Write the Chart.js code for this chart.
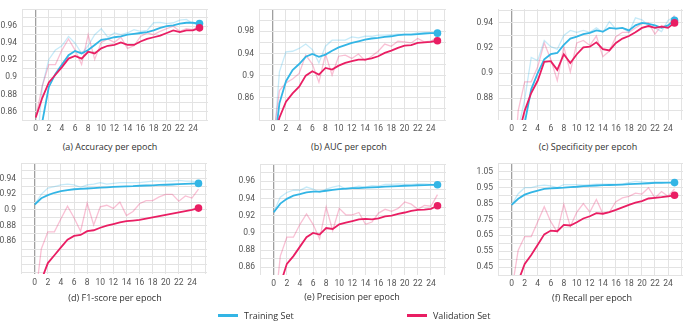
<!DOCTYPE html>
<html><head><meta charset="utf-8">
<script src="https://cdn.jsdelivr.net/npm/chart.js@4.4.1/dist/chart.umd.min.js"></script>
<style>
html,body{margin:0;padding:0;background:#fff;width:685px;height:322px;overflow:hidden;}
#wrap{position:relative;width:685px;height:322px;overflow:hidden;}
canvas{position:absolute;}
.cap{position:absolute;font-family:"Open Sans",sans-serif;font-size:9px;color:#333;white-space:nowrap;transform:translate(-50%,-50%);line-height:1;}
.leg{position:absolute;font-family:"Open Sans",sans-serif;font-size:9px;color:#333;white-space:nowrap;transform:translateY(-50%);line-height:1;}
.sw{position:absolute;height:2.5px;width:20px;}
</style></head>
<body><div id="wrap"></div>
<script>
// ---- data ----
const epochs = [0,1,2,3,4,5,6,7,8,9,10,11,12,13,14,15,16,17,18,19,20,21,22,23,24,25];
const xTickLabels = [0,2,4,6,8,10,12,14,16,18,20,22,24];

// (a) Accuracy
const accTrain    = [0.80,0.848,0.889,0.904,0.915,0.926,0.931,0.928,0.932,0.938,0.944,0.945,0.947,0.948,0.950,0.951,0.952,0.953,0.955,0.958,0.960,0.961,0.963,0.964,0.964,0.963];
const accTrainRaw = [0.80,0.890,0.921,0.932,0.937,0.948,0.940,0.928,0.937,0.950,0.957,0.947,0.952,0.950,0.952,0.956,0.954,0.955,0.964,0.9645,0.963,0.964,0.967,0.968,0.963,0.962];
const accVal      = [0.853,0.876,0.894,0.903,0.912,0.922,0.925,0.922,0.930,0.928,0.934,0.937,0.938,0.941,0.938,0.938,0.942,0.945,0.947,0.949,0.952,0.955,0.953,0.955,0.955,0.958];
const accValRaw   = [0.853,0.890,0.915,0.915,0.932,0.945,0.932,0.915,0.950,0.921,0.941,0.945,0.941,0.947,0.934,0.937,0.948,0.952,0.950,0.954,0.957,0.960,0.954,0.957,0.956,0.960];
const accYTicks   = [0.86,0.88,0.90,0.92,0.94,0.96];

// (b) AUC
const aucTrain    = [0.75,0.850,0.890,0.910,0.921,0.934,0.939,0.934,0.938,0.945,0.951,0.955,0.959,0.962,0.965,0.967,0.968,0.970,0.971,0.973,0.974,0.974,0.975,0.976,0.9765,0.9766];
const aucTrainRaw = [0.75,0.907,0.943,0.944,0.949,0.957,0.947,0.923,0.953,0.964,0.964,0.964,0.970,0.968,0.971,0.971,0.973,0.973,0.974,0.975,0.975,0.975,0.977,0.9766,0.977,0.9766];
const aucVal      = [0.78,0.824,0.853,0.868,0.880,0.900,0.908,0.902,0.914,0.911,0.918,0.923,0.926,0.929,0.929,0.931,0.935,0.941,0.945,0.950,0.954,0.955,0.959,0.960,0.961,0.963];
const aucValRaw   = [0.78,0.873,0.887,0.894,0.904,0.937,0.921,0.888,0.939,0.901,0.935,0.937,0.931,0.939,0.927,0.935,0.944,0.957,0.953,0.962,0.961,0.959,0.967,0.961,0.962,0.970];
const aucYTicks   = [0.86,0.90,0.94,0.98];

// (c) Specificity
const specTrain    = [0.80,0.835,0.860,0.887,0.900,0.911,0.915,0.916,0.9225,0.9275,0.929,0.931,0.932,0.934,0.933,0.936,0.9355,0.936,0.934,0.938,0.940,0.9393,0.938,0.936,0.938,0.942];
const specTrainRaw = [0.80,0.855,0.879,0.9125,0.910,0.926,0.921,0.919,0.930,0.934,0.9325,0.934,0.9325,0.936,0.9325,0.941,0.935,0.936,0.9325,0.944,0.9425,0.938,0.936,0.933,0.942,0.945];
const specVal      = [0.80,0.850,0.870,0.884,0.894,0.909,0.9095,0.9025,0.915,0.908,0.915,0.9205,0.921,0.9245,0.919,0.918,0.924,0.9275,0.9295,0.9325,0.936,0.9375,0.936,0.937,0.936,0.940];
const specValRaw   = [0.80,0.870,0.893,0.893,0.905,0.924,0.911,0.894,0.921,0.901,0.924,0.926,0.922,0.9295,0.913,0.9175,0.929,0.9325,0.9325,0.936,0.9393,0.940,0.931,0.938,0.937,0.946];
const specYTicks   = [0.88,0.90,0.92,0.94];

// (d) F1-score
const f1Train    = [0.907,0.915,0.919,0.922,0.924,0.9255,0.9265,0.927,0.9275,0.928,0.9285,0.929,0.9295,0.930,0.9302,0.9305,0.931,0.9313,0.9316,0.932,0.9323,0.9326,0.933,0.9333,0.9336,0.934];
const f1TrainRaw = [0.907,0.920,0.928,0.930,0.932,0.933,0.932,0.929,0.932,0.933,0.935,0.933,0.934,0.935,0.935,0.935,0.935,0.936,0.937,0.937,0.937,0.937,0.938,0.937,0.937,0.935];
const f1Val      = [0.78,0.81,0.832,0.842,0.852,0.862,0.8668,0.868,0.8728,0.874,0.8772,0.880,0.882,0.884,0.8856,0.8864,0.8872,0.8888,0.8904,0.892,0.8936,0.8952,0.8968,0.8984,0.900,0.9024];
const f1ValRaw   = [0.78,0.850,0.872,0.872,0.8888,0.9048,0.890,0.8728,0.9088,0.8808,0.904,0.906,0.902,0.910,0.8928,0.898,0.908,0.912,0.912,0.9168,0.920,0.920,0.9112,0.918,0.9152,0.9268];
const f1YTicks   = [0.86,0.88,0.90,0.92,0.94];

// (e) Precision
const precTrain    = [0.924,0.934,0.9396,0.9433,0.945,0.947,0.948,0.948,0.949,0.950,0.951,0.9515,0.952,0.952,0.9526,0.953,0.9533,0.9537,0.954,0.9544,0.9548,0.955,0.9554,0.9556,0.9558,0.9559];
const precTrainRaw = [0.924,0.9415,0.947,0.9496,0.9496,0.9533,0.951,0.947,0.951,0.9533,0.955,0.951,0.9526,0.9544,0.9533,0.955,0.9544,0.9563,0.9563,0.957,0.9563,0.9563,0.957,0.957,0.9563,0.9556];
const precVal      = [0.80,0.84,0.864,0.873,0.884,0.895,0.900,0.898,0.9056,0.9045,0.910,0.912,0.9138,0.9156,0.9163,0.9156,0.917,0.9193,0.920,0.922,0.9237,0.9256,0.9267,0.927,0.928,0.9315];
const precValRaw   = [0.80,0.873,0.895,0.895,0.910,0.922,0.910,0.893,0.930,0.9027,0.9285,0.921,0.921,0.9237,0.910,0.9126,0.923,0.9274,0.925,0.9285,0.936,0.9334,0.9274,0.932,0.931,0.9445];
const precYTicks   = [0.86,0.88,0.90,0.92,0.94,0.96];

// (f) Recall
const recTrain    = [0.842,0.88,0.906,0.92,0.932,0.942,0.946,0.948,0.95,0.954,0.956,0.960,0.962,0.964,0.966,0.967,0.968,0.970,0.972,0.974,0.976,0.978,0.980,0.981,0.982,0.982];
const recTrainRaw = [0.842,0.912,0.95,0.95,0.962,0.966,0.962,0.95,0.970,0.970,0.970,0.966,0.970,0.972,0.972,0.972,0.972,0.972,0.982,0.990,0.986,0.982,0.986,0.986,0.982,0.982];
const recVal      = [0.30,0.36,0.47,0.526,0.59,0.656,0.68,0.676,0.716,0.712,0.732,0.756,0.77,0.79,0.786,0.796,0.81,0.826,0.842,0.856,0.866,0.882,0.886,0.89,0.896,0.902];
const recValRaw   = [0.30,0.556,0.642,0.642,0.736,0.83,0.736,0.67,0.846,0.706,0.796,0.85,0.796,0.876,0.786,0.796,0.862,0.886,0.896,0.916,0.91,0.95,0.886,0.926,0.896,0.942];
const recYTicks   = [0.45,0.55,0.65,0.75,0.85,0.95,1.05];

const captions = ["(a) Accuracy per epoch","(b) AUC per epcoh","(c) Specificity per epcoh","(d) F1-score per epoch","(e) Precision per epoch","(f) Recall per epoch"];
const legendLabels = ["Training Set","Validation Set"];

// ---- layout / style ----
const BLUE = 'rgb(51,181,229)', BLUE_L = 'rgba(51,181,229,0.28)';
const PINK = 'rgb(233,30,99)',  PINK_L = 'rgba(233,30,99,0.28)';
const panels = [
  {tr:accTrain, trr:accTrainRaw, va:accVal, var_:accValRaw, yt:accYTicks, ymin:0.85, ymax:0.98, minor:0.01, L:22, T:3, W:186, H:117, cap:[110,146]},
  {tr:aucTrain, trr:aucTrainRaw, va:aucVal, var_:aucValRaw, yt:aucYTicks, ymin:0.82, ymax:1.02, minor:0.02, L:259, T:3, W:187, H:117, cap:[349,146]},
  {tr:specTrain, trr:specTrainRaw, va:specVal, var_:specValRaw, yt:specYTicks, ymin:0.8625, ymax:0.951, minor:0.01, L:498, T:3, W:185, H:117, cap:[588,146]},
  {tr:f1Train, trr:f1TrainRaw, va:f1Val, var_:f1ValRaw, yt:f1YTicks, ymin:0.818, ymax:0.96, minor:0.01, L:21, T:157, W:186, H:117, cap:[115,297]},
  {tr:precTrain, trr:precTrainRaw, va:precVal, var_:precValRaw, yt:precYTicks, ymin:0.851, ymax:0.98, minor:0.01, L:260, T:158, W:186, H:117, cap:[352,296]},
  {tr:recTrain, trr:recTrainRaw, va:recVal, var_:recValRaw, yt:recYTicks, ymin:0.40, ymax:1.105, minor:0.05, L:498, T:157, W:185, H:118, cap:[592,297]}
];
const YW = 30, PT = 4, PR = 4, XH = 18;
const wrap = document.getElementById('wrap');
const xGrid = [-2].concat(xTickLabels, [26]);

function pts(arr){ return epochs.map((e,i)=>({x:e,y:arr[i]})); }
function ds(arr,color,width,isMain){
  return {data:pts(arr), borderColor:color, backgroundColor:color, borderWidth:width, tension:0, fill:false,
    pointRadius:ctx=> (isMain && ctx.dataIndex===epochs.length-1)?3.8:0, pointBorderWidth:0, pointHoverRadius:0, clip:0};
}

panels.forEach((p,idx)=>{
  const c = document.createElement('canvas');
  const cw = p.W+YW+PR, ch = p.H+PT+XH;
  c.width = cw; c.height = ch;
  c.style.left = (p.L-YW)+'px'; c.style.top = (p.T-PT)+'px';
  c.style.width = cw+'px'; c.style.height = ch+'px';
  wrap.appendChild(c);
  const yGrid = [];
  const start = Math.ceil(p.ymin/p.minor - 1e-6);
  for(let k=start; k*p.minor<=p.ymax+1e-9; k++) yGrid.push(+(k*p.minor).toFixed(4));
  new Chart(c.getContext('2d'),{
    type:'line',
    data:{datasets:[ds(p.va,PINK,1.8,true), ds(p.tr,BLUE,1.8,true), ds(p.var_,PINK_L,1.3,false), ds(p.trr,BLUE_L,1.3,false)]},
    options:{
      responsive:false, animation:false, devicePixelRatio:1,
      layout:{padding:{top:PT,right:PR,left:0,bottom:0}},
      plugins:{legend:{display:false},tooltip:{enabled:false}},
      scales:{
        x:{type:'linear',min:-2.1,max:26.3,
          afterBuildTicks:s=>{s.ticks=xGrid.map(v=>({value:v}));},
          afterFit:s=>{s.height=XH;},
          grid:{color:ctx=>ctx.tick&&ctx.tick.value===0?'#a0a0a0':'#e3e3e3', lineWidth:ctx=>ctx.tick&&ctx.tick.value===0?1.3:1, drawTicks:false},
          border:{display:false},
          ticks:{padding:4,autoSkip:false,maxRotation:0,font:{family:'Roboto',size:8.5},color:'#555',
            callback:v=> xTickLabels.includes(v)?String(v):''}
        },
        y:{type:'linear',min:p.ymin,max:p.ymax,
          afterBuildTicks:s=>{s.ticks=yGrid.map(v=>({value:v}));},
          afterFit:s=>{s.width=YW;},
          grid:{color:'#e3e3e3',drawTicks:false},
          border:{display:false},
          ticks:{padding:5,autoSkip:false,font:{family:'Roboto',size:8.5},color:'#555',
            callback:v=> p.yt.some(t=>Math.abs(t-v)<1e-6)? String(+v.toFixed(2)) : ''}
        }
      }
    }
  });
  const cap = document.createElement('div');
  cap.className='cap'; cap.textContent=captions[idx];
  cap.style.left=p.cap[0]+'px'; cap.style.top=p.cap[1]+'px';
  wrap.appendChild(cap);
});

// legend
[[218,244,BLUE,0],[407,433,PINK,1]].forEach(([sx,tx,col,i])=>{
  const s=document.createElement('div'); s.className='sw'; s.style.left=sx+'px'; s.style.top='314px'; s.style.background=col; wrap.appendChild(s);
  const t=document.createElement('div'); t.className='leg'; t.textContent=legendLabels[i]; t.style.left=tx+'px'; t.style.top='315px'; wrap.appendChild(t);
});
</script>
</body></html>
